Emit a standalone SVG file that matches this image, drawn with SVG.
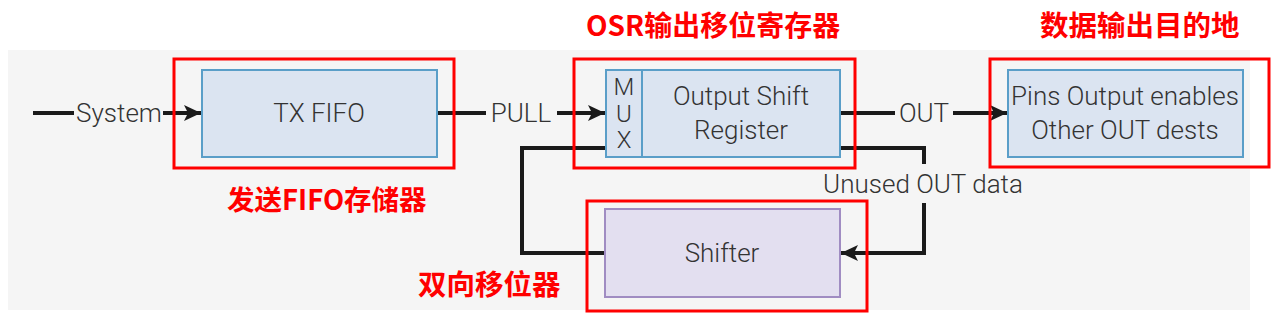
<svg xmlns="http://www.w3.org/2000/svg" width="1280" height="317" viewBox="0 0 1280 317">
<defs>
<marker id="ah" markerUnits="userSpaceOnUse" markerWidth="20" markerHeight="20" viewBox="-18 -10 20 20" refX="0" refY="0" orient="auto">
<path d="M0,0 L-17,-8 L-13,0 L-17,8 Z" fill="#1a1a1a"/>
</marker>
</defs>
<style>
.blk{fill:#dbe4f1;stroke:#5a9ec8;stroke-width:2}
.sh{fill:#e3dff0;stroke:#a08cc2;stroke-width:2}
.red{fill:none;stroke:#ff0000;stroke-width:3}
.t{font-family:Roboto,"Liberation Sans",sans-serif;font-weight:300;font-size:26px;fill:#333;text-anchor:middle}
.m{font-size:24px}
.cn{font-family:"Noto Sans CJK SC",sans-serif;font-weight:700;font-size:28.5px;fill:#ff0000}
.ln{fill:none;stroke:#1a1a1a;stroke-width:4}
</style>
<rect x="8" y="50" width="1242" height="260" fill="#f5f5f5"/>
<g id="connectors">
<line class="ln" x1="33" y1="113" x2="74" y2="113"/>
<line class="ln" x1="163" y1="113" x2="201" y2="113" marker-end="url(#ah)"/>
<line class="ln" x1="437" y1="113" x2="486" y2="113"/>
<line class="ln" x1="557" y1="113" x2="605" y2="113" marker-end="url(#ah)"/>
<line class="ln" x1="840" y1="113" x2="895" y2="113"/>
<line class="ln" x1="953" y1="113" x2="1007" y2="113" marker-end="url(#ah)"/>
<polyline class="ln" points="605,253 522,253 522,148 606,148"/>
<polyline class="ln" points="840,148 924,148 924,164"/>
<polyline class="ln" points="924,203 924,253 841,253" marker-end="url(#ah)"/>
<text class="t" x="119" y="122">System</text>
<text class="t" x="521" y="122">PULL</text>
<text class="t" x="924" y="122">OUT</text>
<text class="t" x="923" y="193">Unused OUT data</text>
</g>
<g id="txfifo">
<rect class="blk" x="202" y="70" width="235" height="87"/>
<text class="t" x="319" y="122">TX FIFO</text>
<rect class="red" x="174" y="59" width="280" height="109"/>
<text class="cn" x="227" y="210" style="font-size:27.5px">发送FIFO存储器</text>
</g>
<g id="osr">
<rect class="blk" x="606" y="70" width="234" height="87"/>
<line x1="642" y1="70" x2="642" y2="157" stroke="#5a9ec8" stroke-width="2"/>
<text class="t m" x="624" y="95">M</text>
<text class="t m" x="624" y="122">U</text>
<text class="t m" x="624" y="148">X</text>
<text class="t" x="741" y="105">Output Shift</text>
<text class="t" x="741" y="139">Register</text>
<rect class="red" x="574" y="59" width="281" height="109"/>
<text class="cn" x="586" y="36" style="font-size:28px">OSR输出移位寄存器</text>
</g>
<g id="pins">
<rect class="blk" x="1008" y="70" width="235" height="87"/>
<text class="t" x="1125" y="105">Pins Output enables</text>
<text class="t" x="1125" y="139">Other OUT dests</text>
<rect class="red" x="990" y="59" width="279" height="108"/>
<text class="cn" x="1040" y="36">数据输出目的地</text>
</g>
<g id="shifter">
<rect class="sh" x="605" y="209" width="235" height="88"/>
<text class="t" x="722" y="262">Shifter</text>
<rect class="red" x="587" y="201" width="280" height="110"/>
<text class="cn" x="418" y="295">双向移位器</text>
</g>
</svg>
